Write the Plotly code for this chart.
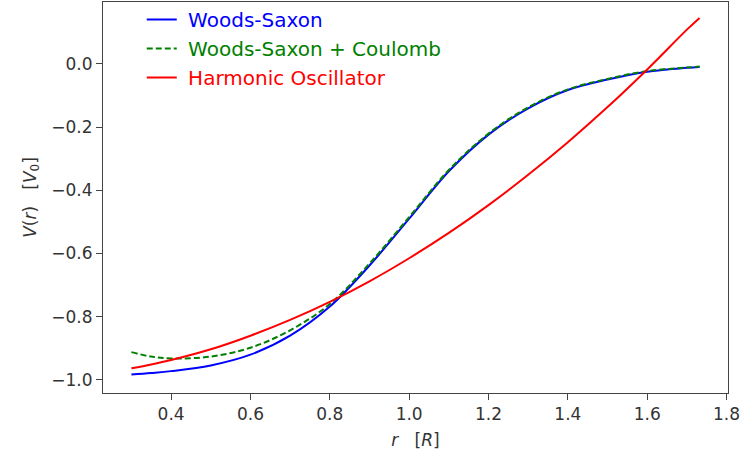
import plotly.graph_objects as go

r = [0.3, 0.35, 0.4, 0.5, 0.6, 0.7, 0.8, 0.9, 1.0, 1.1, 1.2, 1.3, 1.4, 1.5, 1.6, 1.7, 1.732]
ws = [-0.983, -0.978, -0.972, -0.954, -0.920, -0.860, -0.768, -0.638, -0.490, -0.340,
      -0.224, -0.141, -0.083, -0.050, -0.025, -0.013, -0.010]
wsc = [-0.912, -0.926, -0.932, -0.926, -0.898, -0.843, -0.760, -0.632, -0.485, -0.336,
       -0.221, -0.138, -0.081, -0.048, -0.023, -0.012, -0.009]
ho = [-0.963, -0.951, -0.937, -0.903, -0.860, -0.810, -0.753, -0.688, -0.615, -0.535,
      -0.447, -0.351, -0.248, -0.137, -0.018, 0.108, 0.145]

names = ["Woods-Saxon", "Woods-Saxon + Coulomb", "Harmonic Oscillator"]
colors = ["#0000ff", "#008000", "#ff0000"]
x_ticks = [0.4, 0.6, 0.8, 1.0, 1.2, 1.4, 1.6, 1.8]
y_ticks = [-1.0, -0.8, -0.6, -0.4, -0.2, 0.0]

fig = go.Figure()
for ys, name, col, dash in zip([ws, wsc, ho], names, colors, ["solid", "6px,3px", "solid"]):
    fig.add_trace(go.Scatter(
        x=r, y=ys, mode="lines", line=dict(color=col, width=2, dash=dash, shape="spline"),
        name=f'<span style="color:{col}">\u00a0{name}</span>'))

axis_common = dict(showgrid=False, zeroline=False, showline=True, linecolor="#444", linewidth=1,
                   mirror=True, ticks="outside", ticklen=6, tickwidth=1, tickcolor="#444",
                   ticklabeloverflow="allow",
                   tickfont=dict(family="DejaVu Sans", size=17, color="#333"))

fig.update_xaxes(range=[0.2284, 1.8036], tickvals=x_ticks, tickformat=".1f",
                 title=dict(text="<i>r</i>   [<i>R</i>]", font=dict(family="DejaVu Sans", size=17, color="#333"),
                            standoff=10),
                 **axis_common)
fig.update_yaxes(range=[-1.0412, 0.1953], tickvals=y_ticks, tickformat=".1f",
                 title=dict(text="<i>V</i>(<i>r</i>)   [<i>V</i><sub>0</sub>]",
                            font=dict(family="DejaVu Sans", size=17, color="#333"), standoff=10),
                 **axis_common)

fig.update_layout(
    width=740, height=459, margin=dict(l=103, r=12, t=2, b=66, autoexpand=False),
    plot_bgcolor="white", paper_bgcolor="white",
    font=dict(family="DejaVu Sans"),
    legend=dict(x=0.062, y=1.0, xanchor="left", yanchor="top", yref="container",
                bgcolor="rgba(0,0,0,0)",
                font=dict(family="DejaVu Sans", size=20), itemwidth=30, tracegroupgap=0),
)

fig.write_html("out.html")
